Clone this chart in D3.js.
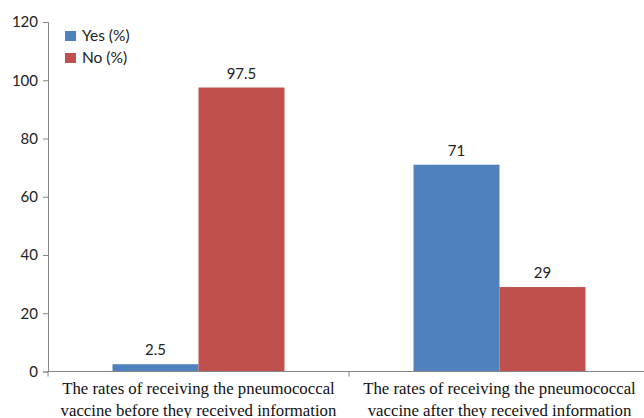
<!DOCTYPE html>
<html>
<head>
<meta charset="utf-8">
<script src="https://cdn.jsdelivr.net/npm/d3@7"></script>
<style>
  body { margin: 0; background: #fff; }
  svg { display: block; }
  .tick text { font-family: "Lato", "Liberation Sans", sans-serif; font-size: 15px; fill: #222; }
</style>
</head>
<body>
<div class="chart-box"></div>
<script>
const categories = [
  ["The rates of receiving the pneumococcal", "vaccine before they received information"],
  ["The rates of receiving the pneumococcal", "vaccine after they received information"]
];
const seriesNames = ["Yes (%)", "No (%)"];
const yesValues = [2.5, 71];
const noValues = [97.5, 29];
const yTicks = [0, 20, 40, 60, 80, 100, 120];
const colors = ["#4f81bd", "#c0504d"];

const width = 644, height = 418;
const margin = {top: 22, left: 48, bottom: 46};
const x0 = 48, x1 = 650;

const svg = d3.select(".chart-box").append("svg")
  .attr("width", width)
  .attr("height", height);

const xScale = d3.scaleBand()
  .domain(d3.range(categories.length))
  .range([x0, x1]);

const inner = d3.scaleBand()
  .domain([0, 1])
  .range([0, xScale.bandwidth()])
  .paddingOuter(0.75)
  .paddingInner(0);

const yScale = d3.scaleLinear()
  .domain([0, 120])
  .range([height - margin.bottom - 0.5, margin.top]);

// y axis
const yAxis = d3.axisLeft(yScale).tickValues(yTicks).tickSize(5).tickPadding(5);
const gy = svg.append("g")
  .attr("transform", "translate(" + margin.left + ",0)")
  .call(yAxis);
gy.select(".domain").attr("stroke", "#868686");
gy.selectAll(".tick line").attr("stroke", "#868686");

// bars
const series = [yesValues, noValues];
series.forEach((vals, s) => {
  svg.append("g").selectAll("rect")
    .data(vals)
    .enter()
    .append("rect")
    .attr("x", (d, i) => xScale(i) + inner(s))
    .attr("y", d => yScale(d))
    .attr("width", inner.bandwidth())
    .attr("height", d => yScale(0) - yScale(d))
    .attr("fill", colors[s]);

  svg.append("g").selectAll("text")
    .data(vals)
    .enter()
    .append("text")
    .attr("x", (d, i) => xScale(i) + inner(s) + inner.bandwidth() / 2)
    .attr("y", d => yScale(d) - 9)
    .attr("text-anchor", "middle")
    .style("font-family", "Lato, 'Liberation Sans', sans-serif")
    .style("font-size", "15px")
    .attr("fill", "#222")
    .text(d => d);
});

// x axis
const gx = svg.append("g");
gx.append("line")
  .attr("x1", x0).attr("x2", x1)
  .attr("y1", yScale(0)).attr("y2", yScale(0))
  .attr("stroke", "#868686");
gx.selectAll(".xtick")
  .data(d3.range(categories.length + 1))
  .enter()
  .append("line")
  .attr("x1", i => x0 + i * xScale.step())
  .attr("x2", i => x0 + i * xScale.step())
  .attr("y1", yScale(0))
  .attr("y2", yScale(0) + 5)
  .attr("stroke", "#868686");

gx.selectAll(".xlabel")
  .data(categories)
  .enter()
  .append("text")
  .attr("text-anchor", "middle")
  .style("font-family", "'Liberation Serif', 'Times New Roman', serif")
  .style("font-size", "16.8px")
  .attr("fill", "#111")
  .each(function(lines, i) {
    d3.select(this).selectAll("tspan")
      .data(lines)
      .enter()
      .append("tspan")
      .attr("x", xScale(i) + xScale.bandwidth() / 2)
      .attr("y", (l, j) => yScale(0) + 22 + j * 22)
      .text(l => l);
  });

// legend
const legend = svg.append("g").attr("transform", "translate(65,31)");
seriesNames.forEach((name, i) => {
  legend.append("rect")
    .attr("x", 0).attr("y", i * 22)
    .attr("width", 11).attr("height", 10)
    .attr("fill", colors[i]);
  legend.append("text")
    .attr("x", 17).attr("y", i * 22 + 10)
    .style("font-family", "Lato, 'Liberation Sans', sans-serif")
    .style("font-size", "15.5px")
    .attr("fill", "#222")
    .text(name);
});
</script>
</body>
</html>
